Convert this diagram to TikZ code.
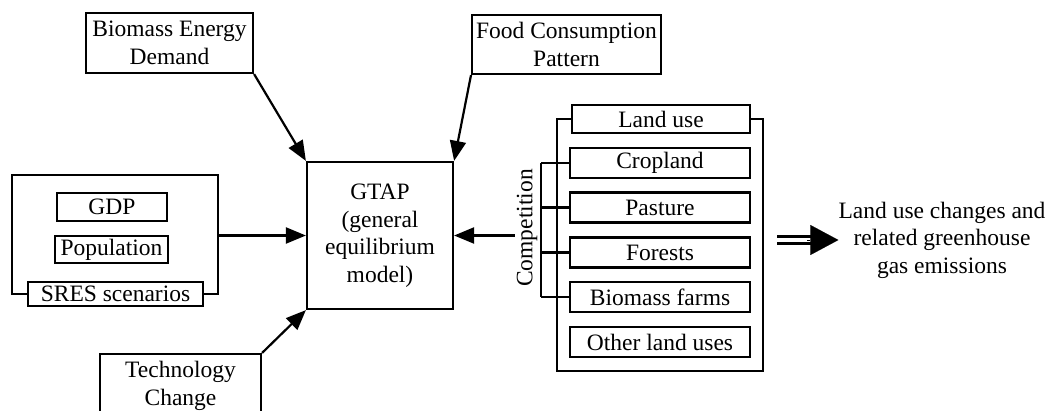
\documentclass[tikz,border=0pt]{standalone}
\usepackage{fontspec}
\setmainfont{Liberation Serif}
\usetikzlibrary{arrows.meta}

\tikzset{
  box/.style={draw, line width=2.2pt, align=center, inner ysep=0pt, inner xsep=4pt},
  line/.style={line width=2.2pt},
  arr/.style={line width=2.2pt, -{Triangle[length=20pt,width=16pt]}},
}

\begin{document}
\begin{tikzpicture}[x=1pt,y=-1pt,font=\fontsize{23.5}{27.5}\selectfont]
\useasboundingbox (0,0) rectangle (1057,410);

% the model in the middle
\node[box, minimum width=146pt, minimum height=147pt] (gtap) at (380,235.5) {GTAP\\(general\\equilibrium\\model)};

% inputs from above and below
\node[box, minimum width=167pt, minimum height=60pt] (bio) at (169.5,43) {Biomass Energy\\Demand};
\node[box, anchor=west, minimum width=169pt, minimum height=59pt] (food) at (471,44.5) {Food Consumption\\Pattern};
\node[box, minimum width=161pt, minimum height=64pt] (tech) at (180.5,386) {Technology\\Change};
\draw[arr] (bio.south east) -- (gtap.north west);
\draw[arr] (food.south west) -- (gtap.north east);
\draw[arr] (tech.north east) -- (gtap.south west);

% SRES group on the left
\node[box, minimum width=110pt, minimum height=28pt] (gdp) at (112,207) {GDP};
\node[box, minimum width=113pt, minimum height=27pt] (pop) at (111.5,249.5) {Population};
\node[box, minimum width=175pt, minimum height=24pt] (sres) at (115.5,294) {SRES scenarios};
\draw[line] (sres.west) -| (12,175) -| (218,294) -- (sres.east);
\coordinate (lfr) at (218,235.5);
\draw[arr] (lfr) -- (gtap.west);

% land use group on the right
\node[box, minimum width=178pt, minimum height=28pt] (luse) at (661,119) {Land use};
\foreach \n/\t/\y in {crop/Cropland/163,past/Pasture/207.5,forest/Forests/252.5,bfarm/Biomass farms/297,other/Other land uses/342} % edit here for the land uses
\node[box, minimum width=180pt, minimum height=30pt] (\n) at (660,\y) {\t};
\draw[line] (luse.west) -| (557,371) -| (763,119) -- (luse.east);

% competition bracket
\coordinate (ctop) at (541,163);
\coordinate (cbot) at (541,297);
\draw[line] (ctop) -- (cbot);
\foreach \n in {crop,past,forest,bfarm}
\draw[line] (\n.west) -- (\n.west -| ctop);
\node[rotate=90, inner sep=2pt] (comp) at (527,228) {Competition};
\draw[arr] (comp.north |- gtap.east) -- (gtap.east);

% result
\node[align=center, inner sep=0pt] (out) at (942,240) {Land use changes and\\related greenhouse\\gas emissions};
\coordinate (dstart) at (777,240);
\draw[line width=2.8pt] ([yshift=3.5pt]dstart) -- ++(34pt,0) ([yshift=-3.5pt]dstart) -- ++(34pt,0);
\draw[line width=0.1pt, -{Triangle[length=28pt,width=30pt]}] ([xshift=30pt]dstart) -- (out.west);
\end{tikzpicture}
\end{document}
